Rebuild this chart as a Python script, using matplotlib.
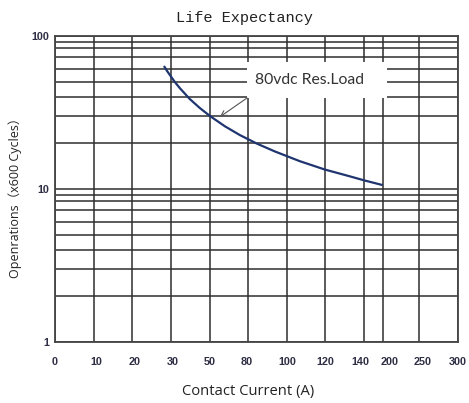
import numpy as np
import matplotlib
matplotlib.use("Agg")
import matplotlib.pyplot as plt
from matplotlib.patches import Rectangle
from matplotlib.transforms import ScaledTranslation

# ---- data ----
current = [28.2, 29.0, 29.8, 32.1, 34.7, 39.8, 45.0, 50.3, 61.9, 73.6,
           84.5, 93.8, 106.7, 119.7, 132.6, 139.9, 199]
operations = [63.7, 59.1, 55.3, 49.9, 45.5, 38.7, 33.8, 30.0, 25.7, 22.5,
              19.8, 17.6, 15.2, 13.4, 12.1, 11.4, 10.6]

x_tick_values = [0, 10, 20, 30, 50, 80, 100, 120, 140, 200, 250, 300]
x_tick_labels = ["0", "10", "20", "30", "50", "80", "100", "120", "140", "200", "250", "300"]
x_axis_positions = [0, 1, 2, 3, 4, 5, 6, 7, 8, 8.49, 9.42, 10.43]
x_label_nudge_px = [0, 3, 2, 1.5, 0, -1.5, 0, 0, -4, 7, 4, 0]

y_major = [1, 10, 100]
y_major_labels = ["1", "10", "100"]
y_minor_steps = [2, 3, 4, 5, 6.05, 7.3, 8.4, 9.1]
y_minor = [s * d for d in (1, 10) for s in y_minor_steps]

series_label = "80vdc Res.Load"
annot_point = (58, 29.6)

# ---- figure ----
W, H = 469, 403
fig = plt.figure(figsize=(W / 100, H / 100), dpi=100)
L, R, T, B = 55, 458, 36, 342
ax = fig.add_axes([L / W, 1 - B / H, (R - L) / W, (B - T) / H])

def fwd(v):
    return np.interp(v, x_tick_values, x_axis_positions)

def inv(p):
    return np.interp(p, x_axis_positions, x_tick_values)

ax.set_xscale("function", functions=(fwd, inv))
ax.set_yscale("log")
ax.set_xlim(0, 300)
ax.set_ylim(1, 100)

grid_color = "#2e2e2e"
ax.set_xticks(x_tick_values)
ax.set_xticklabels(x_tick_labels)
ax.set_yticks(y_major)
ax.set_yticklabels(y_major_labels)
ax.set_yticks(y_minor, minor=True)
ax.yaxis.set_minor_formatter(matplotlib.ticker.NullFormatter())
ax.xaxis.set_minor_locator(matplotlib.ticker.NullLocator())
ax.grid(True, which="both", color=grid_color, linewidth=1.1)
ax.tick_params(which="both", length=0)
ax.tick_params(axis="x", pad=11)
ax.tick_params(axis="y", pad=4)
for lbl in ax.get_xticklabels() + ax.get_yticklabels():
    lbl.set_fontfamily("Liberation Sans")
    lbl.set_fontweight("bold")
    lbl.set_fontsize(7.8)
    lbl.set_color("#2e2e45")
for lbl, dx in zip(ax.get_xticklabels(), x_label_nudge_px):
    lbl.set_transform(lbl.get_transform() + ScaledTranslation(dx / 100, 0, fig.dpi_scale_trans))
for s in ax.spines.values():
    s.set_color("#444444")
    s.set_linewidth(1.3)

ax.plot(current, operations, color="#1f3570", linewidth=1.6, solid_capstyle="butt", zorder=3)

# annotation box
bx0, bx1, by0, by1 = 247, 387, 62, 98
box_ax = ((bx0 - L) / (R - L), (B - by1) / (B - T))
ax.add_patch(Rectangle(box_ax, (bx1 - bx0) / (R - L), (by1 - by0) / (B - T),
                       transform=ax.transAxes, facecolor="white", edgecolor="none", zorder=2.5))
ax.text((255 - L) / (R - L), (B - 80) / (B - T), series_label, transform=ax.transAxes,
        ha="left", va="center", fontsize=11.3, family="Lato", color="#333333", zorder=4)
ax.annotate("", xy=annot_point, xytext=box_ax, textcoords="axes fraction",
            arrowprops=dict(arrowstyle="->", color="#555555", lw=0.8, shrinkA=0, shrinkB=0),
            zorder=4)

fig.text(244 / W, 1 - 18 / H, "Life Expectancy", ha="center", va="center",
         family="Liberation Mono", fontsize=11, color="#222222")
ax.set_xlabel("Contact Current (A)", family="Open Sans", fontsize=10.6, color="#222222")
ax.xaxis.set_label_coords((248 - L) / (R - L), -(392 - B) / (B - T))
ax.xaxis.label.set_va("center")
ax.set_ylabel("Openrations（x600 Cycles）", family=["Open Sans", "Noto Sans CJK SC"], fontsize=9,
              color="#222222")
ax.yaxis.set_label_coords(-(L - 15) / (R - L), (B - 195) / (B - T))
ax.yaxis.label.set_va("center")

fig.savefig("out.png", dpi=100)
